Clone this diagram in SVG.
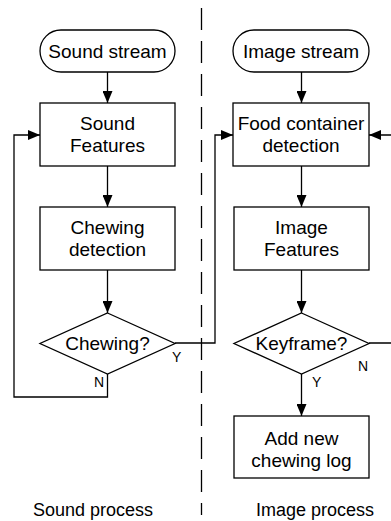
<svg xmlns="http://www.w3.org/2000/svg" width="391" height="521" viewBox="0 0 391 521">
<style>
.box{fill:#fff;stroke:#000;stroke-width:1.3}
.t{font-family:"Liberation Sans",Arial,sans-serif;font-size:19px;fill:#000;text-anchor:middle}
.lbl{font-family:"Liberation Sans",Arial,sans-serif;font-size:14px;fill:#000}
.cap{font-family:"Liberation Sans",Arial,sans-serif;font-size:18px;fill:#000;text-anchor:middle}
.ln{fill:none;stroke:#000;stroke-width:1.3}
</style>
<defs>
<marker id="ah" markerWidth="12" markerHeight="10" refX="12" refY="5" orient="auto" markerUnits="userSpaceOnUse">
<path d="M0,0 L12,5 L0,10 Z" fill="#000"/>
</marker>
</defs>
<rect width="391" height="521" fill="#fff"/>
<line x1="201.5" y1="8" x2="201.5" y2="515" stroke="#000" stroke-width="1.3" stroke-dasharray="22,11"/>
<g id="connectors">
<line class="ln" x1="107.5" y1="72" x2="107.5" y2="103" marker-end="url(#ah)"/>
<line class="ln" x1="107.5" y1="166" x2="107.5" y2="207" marker-end="url(#ah)"/>
<line class="ln" x1="107.5" y1="270" x2="107.5" y2="313" marker-end="url(#ah)"/>
<polyline class="ln" points="107.5,374 107.5,397 14,397 14,135 40,135" marker-end="url(#ah)"/>
<polyline class="ln" points="175,343 215,343 215,135 233,135" marker-end="url(#ah)"/>
<line class="ln" x1="301.5" y1="72" x2="301.5" y2="103" marker-end="url(#ah)"/>
<line class="ln" x1="301.5" y1="166" x2="301.5" y2="207" marker-end="url(#ah)"/>
<line class="ln" x1="301.5" y1="270" x2="301.5" y2="313" marker-end="url(#ah)"/>
<line class="ln" x1="301.5" y1="374" x2="301.5" y2="416" marker-end="url(#ah)"/>
<polyline class="ln" points="369,343 393,343 393,135 369,135" marker-end="url(#ah)"/>
<text class="lbl" x="172" y="362">Y</text>
<text class="lbl" x="94" y="387">N</text>
<text class="lbl" x="358" y="371">N</text>
<text class="lbl" x="312" y="387">Y</text>
</g>
<g id="sound-stream">
<rect class="box" x="40" y="30" width="135" height="42" rx="21"/>
<text class="t" x="107.5" y="58">Sound stream</text>
</g>
<g id="sound-features">
<rect class="box" x="40" y="103" width="135" height="63"/>
<text class="t" x="107.5" y="130">Sound</text>
<text class="t" x="107.5" y="152">Features</text>
</g>
<g id="chewing-detection">
<rect class="box" x="40" y="207" width="135" height="63"/>
<text class="t" x="107.5" y="234">Chewing</text>
<text class="t" x="107.5" y="256">detection</text>
</g>
<g id="chewing-decision">
<polygon class="box" points="107.5,313 175,343.5 107.5,374 40,343.5"/>
<text class="t" x="107.5" y="350">Chewing?</text>
</g>
<g id="image-stream">
<rect class="box" x="233" y="30" width="136" height="42" rx="21"/>
<text class="t" x="301" y="58">Image stream</text>
</g>
<g id="food-container">
<rect class="box" x="233" y="103" width="136" height="63"/>
<text class="t" x="301" y="130">Food container</text>
<text class="t" x="301" y="152">detection</text>
</g>
<g id="image-features">
<rect class="box" x="234" y="207" width="135" height="63"/>
<text class="t" x="301.5" y="234">Image</text>
<text class="t" x="301.5" y="256">Features</text>
</g>
<g id="keyframe-decision">
<polygon class="box" points="301.5,313 369,343.5 301.5,374 234,343.5"/>
<text class="t" x="301.5" y="350">Keyframe?</text>
</g>
<g id="add-log">
<rect class="box" x="234" y="416" width="135" height="62"/>
<text class="t" x="301.5" y="445">Add new</text>
<text class="t" x="301.5" y="467">chewing log</text>
</g>
<g id="captions">
<text class="cap" x="93" y="516">Sound process</text>
<text class="cap" x="315" y="516">Image process</text>
</g>
</svg>
